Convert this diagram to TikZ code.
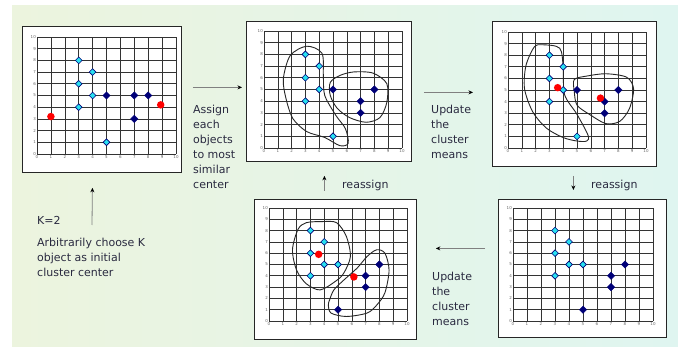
\documentclass[tikz,border=0pt]{standalone}
\usepackage{fontspec}
\setmainfont{DejaVu Sans}
\usetikzlibrary{positioning,arrows.meta,shapes.geometric}
\definecolor{txt}{RGB}{42,42,64}
\definecolor{navy}{RGB}{0,0,120}
\definecolor{aqua}{RGB}{40,225,240}
\definecolor{bgl}{RGB}{236,244,222}
\definecolor{bgr}{RGB}{223,245,240}

\begin{document}
\begin{tikzpicture}[x=1pt, y=-1pt, >=Stealth,
  panel/.style={draw=black!85, fill=white, line width=0.8pt, inner sep=0, anchor=north west},
  gridl/.style={black!80, line width=0.6pt},
  tick/.style={font=\fontsize{4}{4}\selectfont, text=black!60, inner sep=1pt},
  cpt/.style={diamond, aspect=1, draw=navy, fill=aqua, line width=0.6pt, inner sep=0, minimum size=7pt},
  npt/.style={diamond, aspect=1, draw=navy, fill=navy, inner sep=0, minimum size=7.5pt},
  ctr/.style={circle, fill=red, inner sep=0, minimum size=7.5pt},
  blob/.style={black!85, line width=0.9pt},
  lbl/.style={font=\fontsize{11}{15}\selectfont, text=txt, align=left, inner sep=0, anchor=north west},
  arr/.style={-{Stealth[length=4.5pt, width=4pt, color=black]}, draw=black!50, line width=0.8pt}]
  \useasboundingbox (0,0) rectangle (678,347);
  \fill[left color=bgl, right color=bgr] (12,6) rectangle (678,347);

  % the five plots
  \node[panel, minimum width=159pt, minimum height=146pt] (p1) at (22,26) {};
  \node[panel, minimum width=165pt, minimum height=140pt] (p2) at (246,21) {};
  \node[panel, minimum width=164pt, minimum height=145pt] (p3) at (492,21) {};
  \node[panel, minimum width=162pt, minimum height=140pt] (p4) at (254,199) {};
  \node[panel, minimum width=168pt, minimum height=138pt] (p5) at (498,199) {};

  \foreach \gx/\gy/\ux/\uy [count=\k] in {37/154/13.9pt/11.7pt, 264/148/13.8pt/11.7pt,
      508/148/13.8pt/11.6pt, 269/321/13.8pt/11.3pt, 513/321/14.0pt/11.3pt} {
    \begin{scope}[shift={(\gx,\gy)}, x=\ux, y=\uy]
      \draw[gridl, step=1] (0,0) grid (10,10);
      \foreach \i in {0,...,10} {
        \node[tick, anchor=north] (g\k x\i) at (\i,0) {\i};
        \node[tick, anchor=east] (g\k y\i) at (0,\i) {\i};
      }
    \end{scope}
  }

  % initial centers
  \begin{scope}[shift={(37,154)}, x=13.9pt, y=11.7pt]
    \foreach \a/\b [count=\i] in {3/8,4/7,3/6,4/5,3/4,5/1}
      \node[cpt] (a-c\i) at (\a,\b) {};
    \foreach \a/\b [count=\i] in {5/5,7/5,8/5,7/3}
      \node[npt] (a-n\i) at (\a,\b) {};
    \node[ctr] (a-m1) at (1,3.2) {};
    \node[ctr] (a-m2) at (8.9,4.2) {};
  \end{scope}

  % assign
  \begin{scope}[shift={(264,148)}, x=13.8pt, y=11.7pt]
    \draw[blob] plot[smooth cycle] coordinates {(3.1,8.7) (4.2,8.1) (4.3,6.2) (4.4,4.5)
      (5.2,2.8) (5.9,1.65) (6.1,0.4) (5.5,0.2) (4.4,0.9) (3.1,1.4) (2.1,2.5) (1.6,4.2)
      (1.4,5.9) (1.9,7.9)};
    \draw[blob] plot[smooth cycle] coordinates {(4.8,5.6) (5.5,6.2) (6.5,6.5) (7.9,6.4)
      (8.9,5.5) (8.9,3.9) (8.4,2.6) (7.4,2.2) (6.2,2.6) (5.3,3.4) (4.8,4.5)};
    \foreach \a/\b [count=\i] in {3/8,4/7,3/6,4/5,3/4,5/1}
      \node[cpt] (b-c\i) at (\a,\b) {};
    \foreach \a/\b [count=\i] in {5/5,7/4,7/3,8/5}
      \node[npt] (b-n\i) at (\a,\b) {};
  \end{scope}

  % update
  \begin{scope}[shift={(508,148)}, x=13.8pt, y=11.6pt]
    \draw[blob] plot[smooth cycle] coordinates {(2.5,8.9) (3.75,8.6) (4,6.9) (4.1,4.6)
      (5,2.9) (5.8,1.1) (5.7,0.6) (5,0.6) (4,0.9) (2.8,1.7) (1.8,3.1) (1.2,5.1)
      (1.3,7.1) (1.9,8.7)};
    \draw[blob] plot[smooth cycle] coordinates {(4.8,5.9) (5.7,6.2) (7.1,6.4) (8.6,6.1)
      (9.1,5.1) (8.8,3.4) (8.1,2.3) (7.1,2.1) (5.9,2.9) (5,3.7) (4.8,4.9)};
    \foreach \a/\b [count=\i] in {3/8,4/7,3/6,4/5,3/4,5/1}
      \node[cpt] (c-c\i) at (\a,\b) {};
    \foreach \a/\b [count=\i] in {5/5,7/4,7/3,8/5}
      \node[npt] (c-n\i) at (\a,\b) {};
    \node[ctr] (c-m1) at (3.6,5.2) {};
    \node[ctr] (c-m2) at (6.7,4.3) {};
  \end{scope}

  % reassigned
  \begin{scope}[shift={(513,321)}, x=14.0pt, y=11.3pt]
    \foreach \a/\b [count=\i] in {3/8,4/7,3/6,4/5,5/5,3/4}
      \node[cpt] (d-c\i) at (\a,\b) {};
    \foreach \a/\b [count=\i] in {8/5,7/4,7/3,5/1}
      \node[npt] (d-n\i) at (\a,\b) {};
  \end{scope}

  % update again
  \begin{scope}[shift={(269,321)}, x=13.8pt, y=11.3pt]
    \draw[blob] plot[smooth cycle] coordinates {(2.7,8.7) (3.9,8.8) (4.9,8.7) (5.6,7.5)
      (5.9,5.7) (5.4,4.2) (4.8,3.5) (3.7,2.75) (2.7,3.3) (2,4.5) (1.7,6.3) (2.1,8.1)};
    \draw[blob] plot[smooth cycle] coordinates {(4.4,1.9) (4.7,2.75) (5.4,3.6) (6.4,4.7)
      (7.1,5.7) (7.8,6.3) (8.4,6) (8.7,4.5) (8.4,2.5) (7.8,1.4) (7.1,0.7) (5.6,0.4)
      (4.5,0.7) (4.3,1.4)};
    \foreach \a/\b [count=\i] in {3/8,4/7,3/6,4/5,5/5,3/4}
      \node[cpt] (e-c\i) at (\a,\b) {};
    \foreach \a/\b [count=\i] in {8/5,7/4,7/3,5/1}
      \node[npt] (e-n\i) at (\a,\b) {};
    \node[ctr] (e-m1) at (3.6,5.9) {};
    \node[ctr] (e-m2) at (6.15,3.9) {};
  \end{scope}

  % texts
  \node[lbl] (assign) at (193,105) {Assign\\each\\objects\\to most\\similar\\center};
  \node[lbl] (upd1) at (431,105) {Update\\the\\cluster\\means};
  \node[lbl] (upd2) at (432,272) {Update\\the\\cluster\\means};
  \node[lbl, anchor=base west] (reas1) at (342,189) {reassign};
  \node[lbl, anchor=base west] (reas2) at (591,189) {reassign};
  \node[lbl, anchor=base west] (k) at (37,225) {K=2};
  \node[lbl] (choose) at (37,238) {Arbitrarily choose K\\object as initial\\cluster center};

  \coordinate (kup) at (92,225);
  \draw[arr] (kup) -- ([shift={(-9.5,15)}]p1.south);
  \draw[arr] ([shift={(11,-12)}]p1.east) -- ([shift={(-4,-4)}]p2.west);
  \draw[arr] ([shift={(12,1)}]p2.east) -- ([shift={(-19,-1.5)}]p3.west);
  \draw[arr] ([shift={(-1,9)}]p3.south) -- ([shift={(-9,-9)}]p5.north);
  \draw[arr] ([shift={(-13,-20)}]p5.west) -- ([shift={(19,-21)}]p4.east);
  \draw[arr] ([shift={(-11,-8)}]p4.north) -- ([shift={(-4.5,14)}]p2.south);
\end{tikzpicture}
\end{document}
